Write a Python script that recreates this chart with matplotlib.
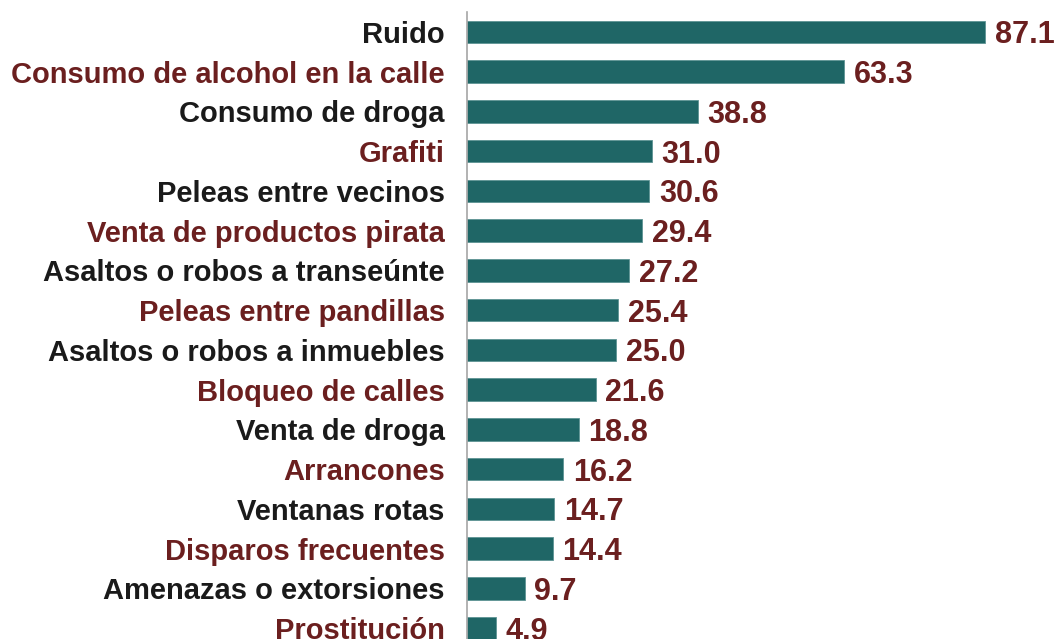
import matplotlib
matplotlib.use('Agg')
import matplotlib.pyplot as plt

#categories and values (percent)
categories = ['Ruido', 'Consumo de alcohol en la calle', 'Consumo de droga', 'Grafiti',
              'Peleas entre vecinos', 'Venta de productos pirata', 'Asaltos o robos a transeúnte',
              'Peleas entre pandillas', 'Asaltos o robos a inmuebles', 'Bloqueo de calles',
              'Venta de droga', 'Arrancones', 'Ventanas rotas', 'Disparos frecuentes',
              'Amenazas o extorsiones', 'Prostitución']
values = [87.1, 63.3, 38.8, 31.0, 30.6, 29.4, 27.2, 25.4, 25.0, 21.6, 18.8, 16.2, 14.7, 14.4, 9.7, 4.9]

bar_color = '#1f6666'
dark_red = '#6b1f1f'
black = '#1a1a1a'

plt.rcParams['font.family'] = 'Liberation Sans'

fig = plt.figure(figsize=(10.64, 6.39), dpi=100)
ax = fig.add_axes([467/1064, 1 - 648/639, 1 - 467/1064, (648 - 12)/639])

pos = list(range(len(categories)))
ax.barh(pos, values, height=0.56, color=bar_color, edgecolor='#5e9494', linewidth=0.6)

for p, v in zip(pos, values):
    ax.annotate(f'{v:.1f}', (v, p), xytext=(7, 0), textcoords='offset points',
                va='center_baseline', ha='left', fontsize=22, fontweight='bold', color=dark_red)

ax.set_ylim(15.5, -0.5)
ax.set_xlim(0, 100.3)
ax.set_yticks(pos)
ax.set_yticklabels(categories, fontsize=21, fontweight='bold', va='center_baseline')
for i, lab in enumerate(ax.get_yticklabels()):
    lab.set_color(black if i % 2 == 0 else dark_red)
ax.tick_params(axis='y', length=0, pad=16)
ax.set_xticks([])

for s in ['top', 'right', 'bottom']:
    ax.spines[s].set_visible(False)
ax.spines['left'].set_color('#a6a6a6')
ax.spines['left'].set_linewidth(1.2)

fig.savefig('out.png', dpi=100)
